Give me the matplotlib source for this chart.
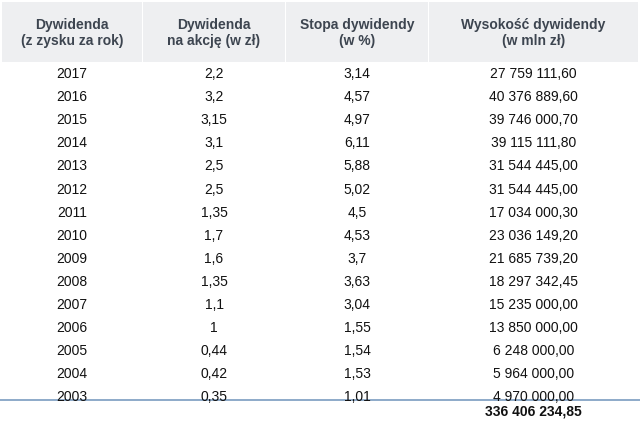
import matplotlib
matplotlib.use("Agg")
import matplotlib.pyplot as plt
from matplotlib.patches import Rectangle

headers = ["Dywidenda\n(z zysku za rok)", "Dywidenda\nna akcję (w zł)", "Stopa dywidendy\n(w %)", "Wysokość dywidendy\n(w mln zł)"]
years = ["2017","2016","2015","2014","2013","2012","2011","2010","2009","2008","2007","2006","2005","2004","2003"]
per_share = ["2,2","3,2","3,15","3,1","2,5","2,5","1,35","1,7","1,6","1,35","1,1","1","0,44","0,42","0,35"]
yield_pct = ["3,14","4,57","4,97","6,11","5,88","5,02","4,5","4,53","3,7","3,63","3,04","1,55","1,54","1,53","1,01"]
amount = ["27 759 111,60","40 376 889,60","39 746 000,70","39 115 111,80","31 544 445,00","31 544 445,00",
          "17 034 000,30","23 036 149,20","21 685 739,20","18 297 342,45","15 235 000,00","13 850 000,00",
          "6 248 000,00","5 964 000,00","4 970 000,00"]
total = "336 406 234,85"

fig = plt.figure(figsize=(6.4, 4.26), dpi=100)
ax = fig.add_axes([0, 0, 1, 1])
ax.set_xlim(0, 640); ax.set_ylim(426, 0); ax.axis("off")

cells = [(2, 142), (143, 285), (286, 428), (429, 638)]
centers = [(a + b) / 2 for a, b in cells]
for a, b in cells:
    ax.add_patch(Rectangle((a, 2), b - a, 60, color="#eeeff1", lw=0))
for c, h in zip(centers, headers):
    ax.text(c, 33, h, ha="center", va="center", fontsize=10, fontweight="bold",
            color="#3d4550", family="Liberation Sans", linespacing=1.15)

cols = [years, per_share, yield_pct, amount]
for i in range(len(years)):
    y = 74 + i * 23.1
    for c, col in zip(centers, cols):
        ax.text(c, y, col[i], ha="center", va="center", fontsize=10, color="#111111", family="Liberation Sans")

ax.plot([0, 640], [400, 400], color="#7a9cc0", lw=1.2)
ax.text(centers[3], 412, total, ha="center", va="center", fontsize=10, fontweight="bold",
        color="#111111", family="Liberation Sans")
fig.savefig("out.png", dpi=100)
